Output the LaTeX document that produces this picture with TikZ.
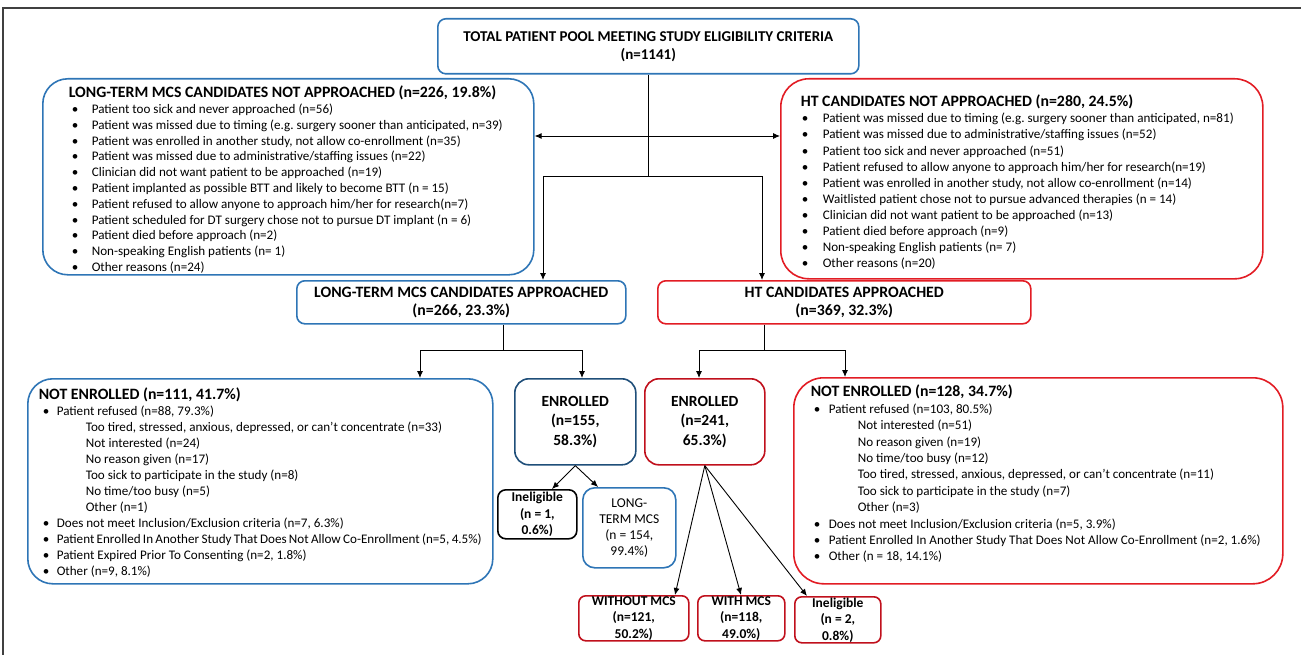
\documentclass[tikz,border=0pt]{standalone}
\usepackage{fontspec}
\setmainfont{Carlito}
\usetikzlibrary{arrows.meta}

\definecolor{ltblue}{RGB}{46,117,182}
\definecolor{dkblue}{RGB}{31,78,121}
\definecolor{htred}{RGB}{226,28,36}
\definecolor{dkred}{RGB}{192,16,28}

\newlength{\bulx}\newlength{\bulw}\newlength{\subx}
\newcommand{\itm}[1]{\hspace*{\bulx}\makebox[\bulw][l]{\textbullet}#1}
\newcommand{\subitm}[1]{\hspace*{\subx}#1}
\newcommand{\hd}[1]{{\fontsize{15.8}{18}\selectfont\bfseries\rule{0pt}{12pt}#1}\par}

\tikzset{
  lbox/.style={draw=#1, line width=1.6pt, anchor=north west},
  cbox/.style={draw=#1, line width=1.6pt, inner sep=0pt, anchor=north west},
  arr/.style={-{Latex[length=7pt,width=6pt]}, line width=0.9pt},
  twoarr/.style={{Latex[length=7pt,width=6pt]}-{Latex[length=7pt,width=6pt]}, line width=0.9pt}
}

\begin{document}
\begin{tikzpicture}[x=1pt, y=-1pt]
\useasboundingbox (0,0) rectangle (1301,655);
\draw[line width=1.8pt, black!75] (3,655) -- (3,8) -- (1301,8);

% top
\node[cbox=ltblue, rounded corners=8pt] (tot) at (437,18)
  {\parbox[c][55pt][c]{421pt}{\centering\fontsize{15}{18}\selectfont\bfseries
   TOTAL PATIENT POOL MEETING STUDY ELIGIBILITY CRITERIA\\(n=1141)}};

% not approached
\node[lbox=ltblue, rounded corners=25pt, inner xsep=26pt, inner ysep=7pt] (ltna) at (42,78)
  {\parbox[c][182pt][t]{439pt}{\setlength{\bulx}{3pt}\setlength{\bulw}{20pt}%
   \hd{LONG-TERM MCS CANDIDATES NOT APPROACHED (n=226, 19.8\%)}
   \fontsize{13.1}{15.8}\selectfont
   \itm{Patient too sick and never approached (n=56)}\\
   \itm{Patient was missed due to timing (e.g.\ surgery sooner than anticipated, n=39)}\\
   \itm{Patient was enrolled in another study, not allow co-enrollment (n=35)}\\
   \itm{Patient was missed due to administrative/staffing issues (n=22)}\\
   \itm{Clinician did not want patient to be approached (n=19)}\\
   \itm{Patient implanted as possible BTT and likely to become BTT (n = 15)}\\
   \itm{Patient refused to allow anyone to approach him/her for research(n=7)}\\
   \itm{Patient scheduled for DT surgery chose not to pursue DT implant (n = 6)}\\
   \itm{Patient died before approach (n=2)}\\
   \itm{Non-speaking English patients (n= 1)}\\
   \itm{Other reasons (n=24)}}};

\node[lbox=htred, rounded corners=28pt, inner xsep=20pt, inner ysep=16pt] (htna) at (780,78)
  {\parbox[c][168pt][t]{442pt}{\setlength{\bulx}{1pt}\setlength{\bulw}{21pt}%
   \hd{HT CANDIDATES NOT APPROACHED (n=280, 24.5\%)}
   \fontsize{13.1}{16.1}\selectfont
   \itm{Patient was missed due to timing (e.g.\ surgery sooner than anticipated, n=81)}\\
   \itm{Patient was missed due to administrative/staffing issues (n=52)}\\
   \itm{Patient too sick and never approached (n=51)}\\
   \itm{Patient refused to allow anyone to approach him/her for research(n=19)}\\
   \itm{Patient was enrolled in another study, not allow co-enrollment (n=14)}\\
   \itm{Waitlisted patient chose not to pursue advanced therapies (n = 14)}\\
   \itm{Clinician did not want patient to be approached (n=13)}\\
   \itm{Patient died before approach (n=9)}\\
   \itm{Non-speaking English patients (n= 7)}\\
   \itm{Other reasons (n=20)}}};

% approached
\node[cbox=ltblue, rounded corners=8pt] (ltap) at (296,280)
  {\parbox[c][43pt][c]{329pt}{\centering\fontsize{15.8}{18}\selectfont\bfseries
   LONG-TERM MCS CANDIDATES APPROACHED\\(n=266, 23.3\%)}};
\node[cbox=htred, rounded corners=8pt] (htap) at (657,280)
  {\parbox[c][43pt][c]{373pt}{\centering\fontsize{15.8}{18}\selectfont\bfseries
   HT CANDIDATES APPROACHED\\(n=369, 32.3\%)}};

% not enrolled
\node[lbox=ltblue, rounded corners=25pt, inner xsep=11pt, inner ysep=9pt] (ltne) at (27,378)
  {\parbox[c][187pt][t]{443pt}{\setlength{\bulx}{4pt}\setlength{\bulw}{14pt}\setlength{\subx}{47pt}%
   \hd{NOT ENROLLED (n=111, 41.7\%)}
   \fontsize{13.1}{16}\selectfont
   \itm{Patient refused (n=88, 79.3\%)}\\
   \subitm{Too tired, stressed, anxious, depressed, or can’t concentrate (n=33)}\\
   \subitm{Not interested (n=24)}\\
   \subitm{No reason given (n=17)}\\
   \subitm{Too sick to participate in the study (n=8)}\\
   \subitm{No time/too busy (n=5)}\\
   \subitm{Other (n=1)}\\
   \itm{Does not meet Inclusion/Exclusion criteria (n=7, 6.3\%)}\\
   \itm{Patient Enrolled In Another Study That Does Not Allow Co-Enrollment (n=5, 4.5\%)}\\
   \itm{Patient Expired Prior To Consenting (n=2, 1.8\%)}\\
   \itm{Other (n=9, 8.1\%)}}};

\node[lbox=htred, rounded corners=30pt, inner xsep=17pt, inner ysep=7pt] (htne) at (793,377)
  {\parbox[c][192pt][t]{455pt}{\setlength{\bulx}{3pt}\setlength{\bulw}{15pt}\setlength{\subx}{47pt}%
   \hd{NOT ENROLLED (n=128, 34.7\%)}
   \fontsize{13.1}{16.4}\selectfont
   \itm{Patient refused (n=103, 80.5\%)}\\
   \subitm{Not interested (n=51)}\\
   \subitm{No reason given (n=19)}\\
   \subitm{No time/too busy (n=12)}\\
   \subitm{Too tired, stressed, anxious, depressed, or can’t concentrate (n=11)}\\
   \subitm{Too sick to participate in the study (n=7)}\\
   \subitm{Other (n=3)}\\
   \itm{Does not meet Inclusion/Exclusion criteria (n=5, 3.9\%)}\\
   \itm{Patient Enrolled In Another Study That Does Not Allow Co-Enrollment (n=2, 1.6\%)}\\
   \itm{Other (n = 18, 14.1\%)}}};

% enrolled
\node[cbox=dkblue, rounded corners=14pt] (lten) at (514,378)
  {\parbox[c][86pt][c]{121pt}{\centering\fontsize{15.5}{19.5}\selectfont\bfseries
   ENROLLED\\(n=155,\\58.3\%)}};
\node[cbox=dkred, rounded corners=14pt] (hten) at (644,378)
  {\parbox[c][86pt][c]{120pt}{\centering\fontsize{15.5}{19.5}\selectfont\bfseries
   ENROLLED\\(n=241,\\65.3\%)}};

% outcomes
\node[cbox=black, rounded corners=8pt] (ltin) at (497,489)
  {\parbox[c][49pt][c]{79pt}{\centering\fontsize{13.5}{16.5}\selectfont\bfseries
   Ineligible\\(n = 1,\\0.6\%)}};
\node[cbox=ltblue, rounded corners=12pt] (ltmcs) at (582,487)
  {\parbox[c][80pt][c]{93pt}{\centering\fontsize{13.5}{16}\selectfont
   LONG-\\TERM MCS\\(n = 154,\\99.4\%)}};
\node[cbox=dkred, rounded corners=7pt] (hwo) at (578,595)
  {\parbox[c][45pt][c]{110pt}{\centering\fontsize{13.5}{16.5}\selectfont\bfseries
   WITHOUT MCS\\(n=121,\\50.2\%)}};
\node[cbox=dkred, rounded corners=7pt] (hwi) at (697,595)
  {\parbox[c][45pt][c]{87pt}{\centering\fontsize{13.5}{16.5}\selectfont\bfseries
   WITH MCS\\(n=118,\\49.0\%)}};
\node[cbox=dkred, rounded corners=7pt] (htin) at (794,596)
  {\parbox[c][46pt][c]{86pt}{\centering\fontsize{13.5}{16.5}\selectfont\bfseries
   Ineligible\\(n = 2,\\0.8\%)}};

% connectors
\coordinate (dbl) at (648,136);
\coordinate (j0) at (648,176);
\coordinate (j1) at (503,350);
\coordinate (j2) at (764,350);
\draw[line width=0.9pt] (tot.south -| j0) -- (j0);
\draw[twoarr] (ltna.east |- dbl) -- (htna.west |- dbl);
\draw[arr] (j0) -| (ltap.north -| 543,0);
\draw[arr] (j0) -| (htap.north -| 762,0);
\draw[line width=0.9pt] (ltap.south -| j1) -- (j1);
\draw[arr] (j1) -| (ltne.north -| 420,0);
\draw[arr] (j1) -| (lten.north -| 582,0);
\draw[line width=0.9pt] (htap.south -| j2) -- (j2);
\draw[arr] (j2) -| (hten.north -| 699,0);
\draw[arr] (j2) -| (htne.north -| 845,0);
\draw[arr] (lten.south) -- (ltin.north -| 552,0);
\draw[arr] (lten.south) -- (ltmcs.north -| 598,0);
\draw[arr] (hten.south) -- (hwo.north -| 675,0);
\draw[arr] (hten.south) -- (hwi.north -| 741,0);
\draw[arr] (hten.south) -- (htin.north -| 807,0);
\end{tikzpicture}
\end{document}
